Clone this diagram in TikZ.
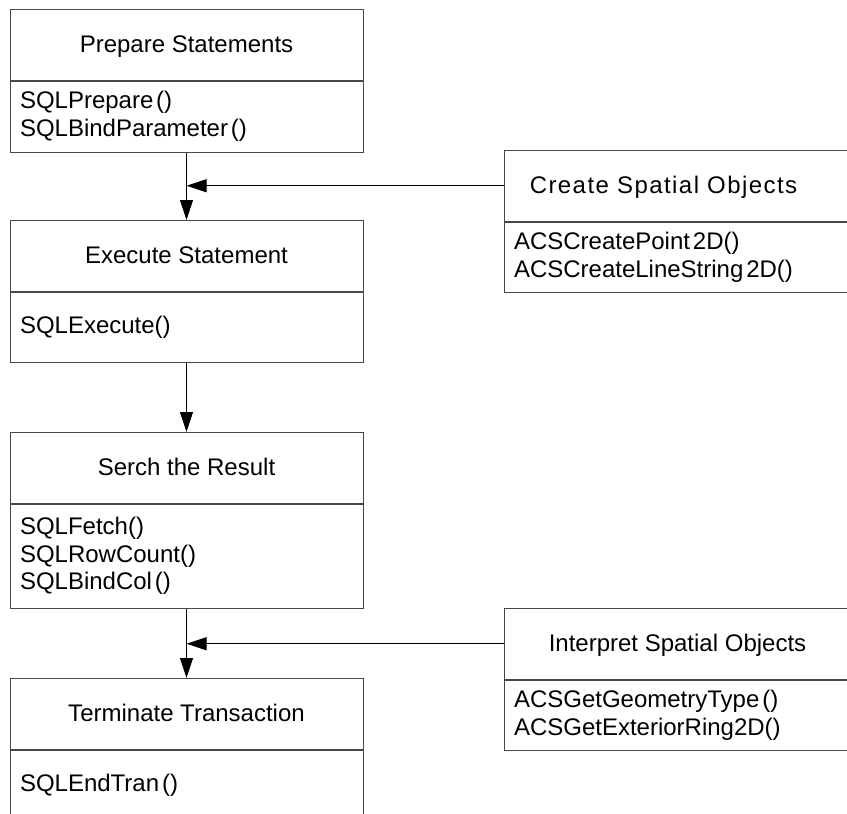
\documentclass[tikz,border=0pt]{standalone}
\usepackage{fontspec}
\setmainfont{Liberation Sans}
\usetikzlibrary{arrows.meta,calc}
\tikzset{
  boxline/.style={draw=black!72, line width=1pt},
  head/.style={boxline, rectangle, minimum height=70.5pt, text height=17pt, text depth=2pt,
    inner sep=0pt, anchor=north west, font=\fontsize{24}{27.6}\selectfont},
  lhead/.style={head, minimum width=353pt},
  rhead/.style={head, minimum width=347pt},
  bodybox/.style={boxline, rectangle, inner xsep=10pt, inner ysep=0pt, align=left,
    anchor=north west, font=\fontsize{24}{27.6}\selectfont},
  lbody/.style={bodybox, text width=333pt},
  rbody/.style={bodybox, text width=327pt},
  flow/.style={draw=black, line width=1pt, -{Triangle[length=20pt,width=13pt]}},
}
\newcommand{\gp}{\hspace{0.12em}}
\begin{document}
\begin{tikzpicture}[x=1pt,y=-1pt]
\useasboundingbox (0,0) rectangle (847,814);
\clip (0,0) rectangle (847,814);
% left column
\node[lhead] (prepT) at (9.5,9) {Prepare Statements};
\node[lbody, minimum height=71pt] (prepB) at (prepT.south west) {SQLPrepare\gp()\\SQLBindParameter\gp()};
\node[lhead] (execT) at (9.5,220) {Execute Statement};
\node[lbody, minimum height=70.5pt] (execB) at (execT.south west) {SQLExecute()};
\node[lhead] (srchT) at (9.5,432) {Serch the Result};
\node[lbody, minimum height=104pt] (srchB) at (srchT.south west) {SQLFetch()\\SQLRowCount()\\SQLBindCol\gp()};
\node[lhead] (termT) at (9.5,678) {Terminate Transaction};
\node[lbody, minimum height=71pt] (termB) at (termT.south west) {SQLEndTran\gp()};
% right column
\node[rhead] (crtT) at (503.5,150) {\addfontfeature{LetterSpace=6}Create Spatial Objects\kern28pt\null};
\node[rbody, minimum height=70.5pt] (crtB) at (crtT.south west) {ACSCreatePoint\gp2D()\\ACSCreateLineString\gp2D()};
\node[rhead] (intT) at (503.5,608) {Interpret Spatial Objects};
\node[rbody, minimum height=70.5pt] (intB) at (intT.south west) {ACSGetGeometryType\gp()\\ACSGetExteriorRing2D()};
% connectors
\draw[flow] (prepB.south) -- (execT.north);
\draw[flow] (crtT.west) -- (crtT.west -| prepB.south);
\draw[flow] (execB.south) -- (srchT.north);
\draw[flow] (srchB.south) -- (termT.north);
\draw[flow] (intT.west) -- (intT.west -| srchB.south);
\end{tikzpicture}
\end{document}
